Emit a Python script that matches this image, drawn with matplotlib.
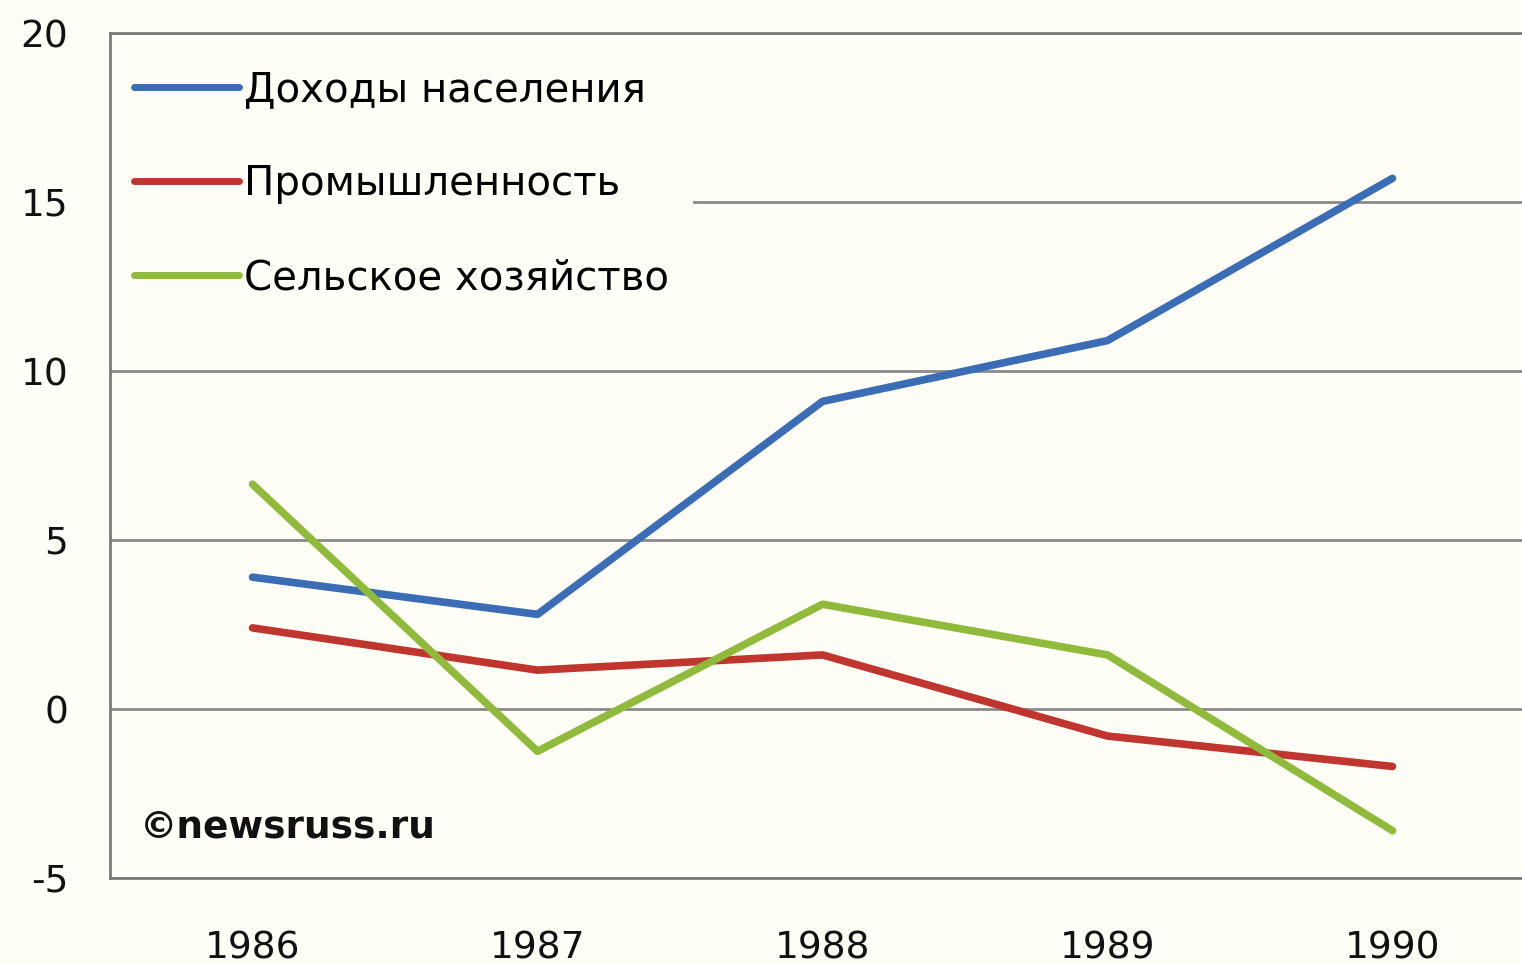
import matplotlib
matplotlib.use('Agg')
import matplotlib.pyplot as plt

plt.rcParams['font.family'] = ['DejaVu Sans']
plt.rcParams['axes.unicode_minus'] = False

# 데이터
years = ['1986', '1987', '1988', '1989', '1990']
income = [3.9, 2.8, 9.1, 10.9, 15.7]
industry = [2.4, 1.15, 1.6, -0.8, -1.7]
agriculture = [6.65, -1.25, 3.1, 1.6, -3.6]
labels = ['Доходы населения', 'Промышленность', 'Сельское хозяйство']

bg = '#fffef6'
fig = plt.figure(figsize=(15.22, 9.64), dpi=100, facecolor=bg)
ax = fig.add_axes([110/1522, 86/964, 1425/1522, 845/964], facecolor=bg)

x = range(len(years))
ax.plot(x, income, color='#3a6db5', lw=5.5, label=labels[0], solid_capstyle='round', zorder=3)
ax.plot(x, industry, color='#c0352e', lw=5.5, label=labels[1], solid_capstyle='round', zorder=3)
ax.plot(x, agriculture, color='#8fba3c', lw=5.5, label=labels[2], solid_capstyle='round', zorder=3)

ax.set_xlim(-0.5, 4.5)
ax.set_ylim(-5, 20)
ax.set_yticks([-5, 0, 5, 10, 15, 20])
ax.set_xticks(list(x))
ax.set_xticklabels(years)
ax.tick_params(axis='both', length=0, labelsize=27, colors='#111111')
ax.tick_params(axis='y', pad=30)
ax.tick_params(axis='x', pad=38)

ax.grid(axis='y', color='#8a8a8a', lw=2)
ax.set_axisbelow(True)
for s in ['left', 'top', 'bottom']:
    ax.spines[s].set_color('#7a7a7a')
    ax.spines[s].set_linewidth(2)
ax.spines['right'].set_visible(False)

leg = ax.legend(loc='upper left', bbox_to_anchor=(0.0, 0.985), fontsize=29,
                handlelength=2.6, handletextpad=0.12, labelspacing=1.35,
                frameon=True, facecolor=bg, edgecolor='none', framealpha=1,
                borderaxespad=0, borderpad=0.6)
for h in leg.get_lines():
    h.set_linewidth(5)
leg.get_frame().set_boxstyle('square', pad=0)
leg.set_zorder(2)

ax.text(0.021, 0.06, '©newsruss.ru', transform=ax.transAxes, fontsize=27,
        fontweight='bold', color='#111111', va='center', ha='left')

fig.savefig('out.png', dpi=100, facecolor=bg)
